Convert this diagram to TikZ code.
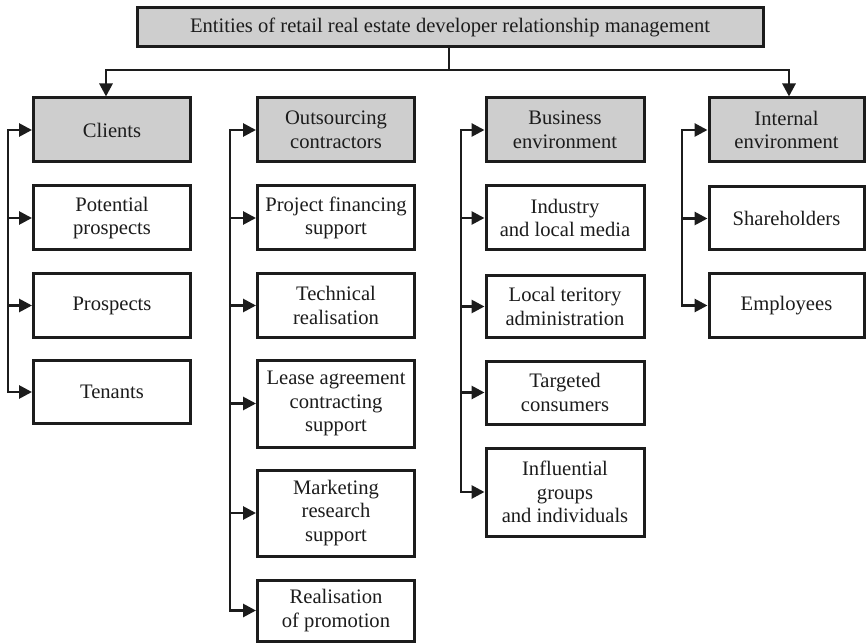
\documentclass[tikz,border=0pt]{standalone}
\usepackage{fontspec}
\setmainfont{Liberation Serif}
\usetikzlibrary{arrows.meta}
\definecolor{boxgray}{RGB}{206,206,206}
\definecolor{ink}{RGB}{28,28,28}
\begin{document}
\begin{tikzpicture}[x=1pt,y=-1pt,
  wbox/.style={draw=ink, line width=3pt, fill=white, align=center, inner sep=0pt,
    minimum width=157pt, text=ink, font=\fontsize{20.6}{23.5}\selectfont},
  gbox/.style={wbox, fill=boxgray},
  conn/.style={draw=ink, line width=2.8pt, line cap=rect},
  arr/.style={conn, -{Triangle[length=13pt,width=13pt]}}]
\useasboundingbox (0,0) rectangle (867,644);
% top
\node[gbox, minimum width=626pt, minimum height=39pt] (top) at (450,27.5)
  {Entities of retail real estate developer relationship management};
% column 1
\node[gbox, minimum height=64pt] (clients) at (112,130) {Clients};
\node[wbox, minimum height=64pt] (pp) at (112,218) {Potential\\prospects};
\node[wbox, minimum height=63pt] (pr) at (112,305.5) {Prospects};
\node[wbox, minimum height=63pt] (te) at (112,392) {Tenants};
% column 2
\node[gbox, minimum height=64pt] (oc) at (336,130) {Outsourcing\\contractors};
\node[wbox, minimum height=64pt] (pf) at (336,218) {Project financing\\support};
\node[wbox, minimum height=63pt] (tr) at (336,305.5) {Technical\\realisation};
\node[wbox, minimum height=87pt] (la) at (336,403.5) {Lease agreement\\contracting\\support};
\node[wbox, minimum height=86pt] (mr) at (336,513) {Marketing\\research\\support};
\node[wbox, minimum height=61pt] (rp) at (336,610.5) {Realisation\\of promotion};
% column 3
\node[gbox, minimum width=158pt, minimum height=64pt] (be) at (565,130) {Business\\environment};
\node[wbox, minimum width=158pt, minimum height=64pt] (im) at (565,218) {Industry\\and local media};
\node[wbox, minimum width=158pt, minimum height=61pt] (lt) at (565,306.5) {Local teritory\\administration};
\node[wbox, minimum width=158pt, minimum height=63pt] (tc) at (565,392.5) {Targeted\\consumers};
\node[wbox, minimum width=158pt, minimum height=88pt] (ig) at (565,492) {Influential\\groups\\and individuals};
% column 4
\node[gbox, minimum width=155pt, minimum height=64pt] (ie) at (786.5,130) {Internal\\environment};
\node[wbox, minimum width=155pt, minimum height=63pt] (sh) at (786.5,218.5) {Shareholders};
\node[wbox, minimum width=155pt, minimum height=63pt] (em) at (786.5,305.5) {Employees};
% top connectors
\coordinate (bus) at (449,70);
\coordinate (busL) at (106,70);
\coordinate (busR) at (789,70);
\draw[conn] (top.south -| bus) -- (bus);
\draw[conn] (busL) -- (busR);
\draw[arr] (busL) -- (busL |- clients.north);
\draw[arr] (busR) -- (busR |- ie.north);
% column connectors
\coordinate (v1) at (8,0);
\coordinate (v2) at (230,0);
\coordinate (v3) at (461,0);
\coordinate (v4) at (682,0);
\draw[conn] (v1 |- clients.west) -- (v1 |- te.west);
\foreach \n in {clients,pp,pr,te} \draw[arr] (v1 |- \n.west) -- (\n.west);
\draw[conn] (v2 |- oc.west) -- (v2 |- rp.west);
\foreach \n in {oc,pf,tr,la,mr,rp} \draw[arr] (v2 |- \n.west) -- (\n.west);
\draw[conn] (v3 |- be.west) -- (v3 |- ig.west);
\foreach \n in {be,im,lt,tc,ig} \draw[arr] (v3 |- \n.west) -- (\n.west);
\draw[conn] (v4 |- ie.west) -- (v4 |- em.west);
\foreach \n in {ie,sh,em} \draw[arr] (v4 |- \n.west) -- (\n.west);
\end{tikzpicture}
\end{document}
